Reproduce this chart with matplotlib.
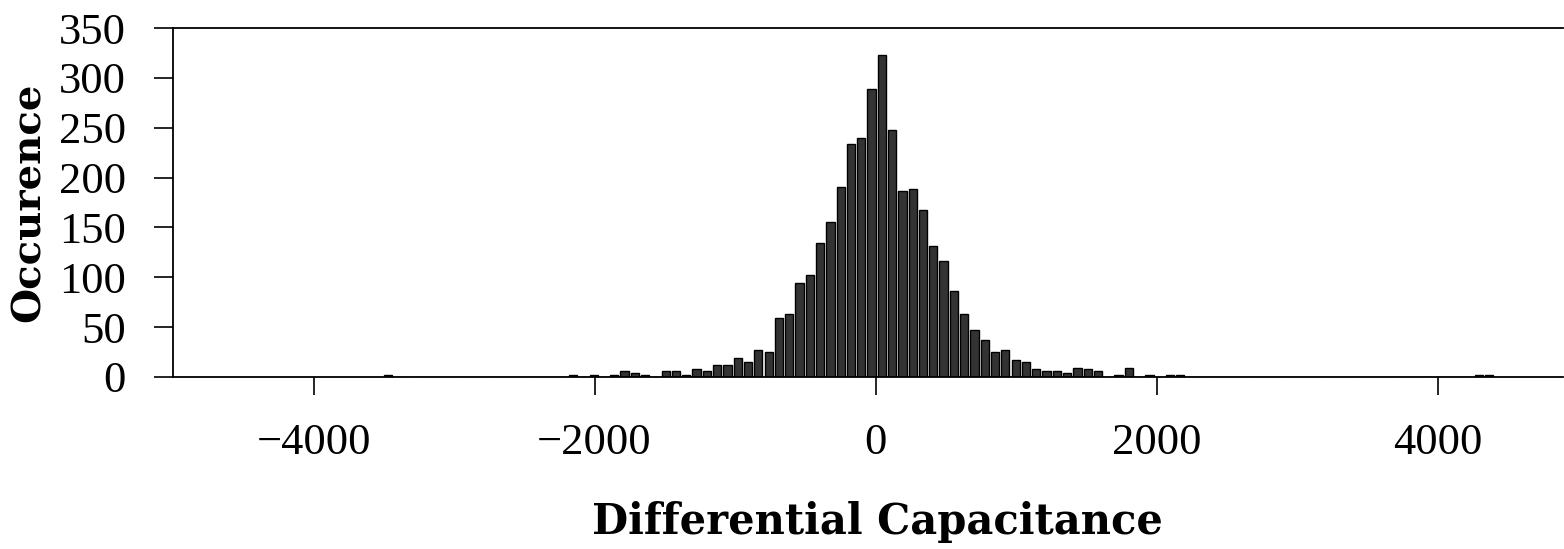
import numpy as np
import matplotlib
matplotlib.use("Agg")
import matplotlib.pyplot as plt

# Histogram data (bin counts), bins of equal width
bin_start = -3508.0
bin_width = 73.26
counts = [2] + [0] * 17 + [
    2, 0, 2, 0, 2, 6, 4, 2, 0, 6, 6, 2, 8, 6, 12, 12, 19, 15, 27, 25,
    59, 63, 94, 102, 134, 155, 191, 234, 240, 289, 323, 248, 187, 189, 167, 131,
    116, 86, 63, 47, 37, 25, 27, 17, 15, 8, 6, 6, 4, 9, 8, 6, 0, 2, 9, 0,
    2, 0, 2, 2] + [0] * 28 + [2, 2]

x_ticks = [-4000, -2000, 0, 2000, 4000]
x_ticklabels = ["\u22124000", "\u22122000", "0", "2000", "4000"]
y_ticks = [0, 50, 100, 150, 200, 250, 300, 350]

plt.rcParams['font.family'] = ['Liberation Serif', 'DejaVu Serif']

fig = plt.figure(figsize=(15.64, 5.49), dpi=100)
ax = fig.add_axes([173 / 1564, (549 - 377) / 549, (1563 - 173) / 1564, (377 - 28) / 549])

centers = bin_start + bin_width * (np.arange(len(counts)) + 0.5)
ax.bar(centers, counts, width=bin_width * 0.8, color="#333333",
       edgecolor="black", linewidth=1.0)

ax.set_xlim(-5000, 4893)
ax.set_ylim(0, 350)
ax.set_xticks(x_ticks)
ax.set_xticklabels(x_ticklabels)
ax.set_yticks(y_ticks)

ax.spines['right'].set_visible(False)
for s in ['left', 'bottom', 'top']:
    ax.spines[s].set_linewidth(1.3)

ax.tick_params(axis='both', direction='out', width=1.2, labelsize=32, colors='black')
ax.tick_params(axis='y', length=14, pad=20)
ax.tick_params(axis='x', length=13, pad=20)

label_font = ['DejaVu Serif']
ax.set_xlabel("Differential Capacitance", fontsize=30, fontweight='bold',
              family=label_font)
ax.set_ylabel("Occurence", fontsize=29, fontweight='bold', family=label_font)
ax.xaxis.set_label_coords(0.5 + 9 / 1390, (377 - 501) / 349)
ax.yaxis.set_label_coords((48 - 173) / 1390, 0.5)

fig.savefig("out.png", dpi=100)
